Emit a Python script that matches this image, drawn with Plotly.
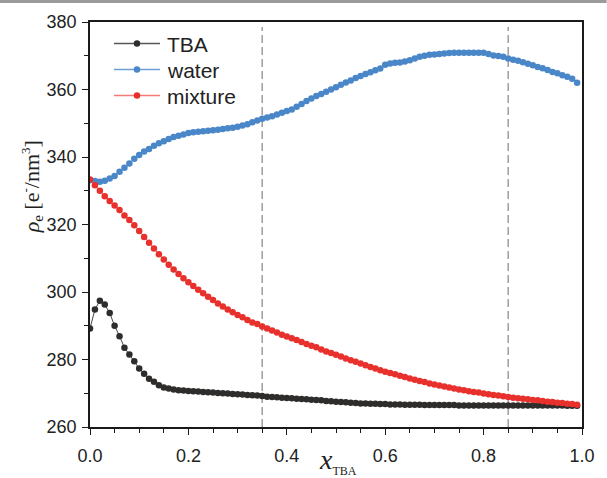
import plotly.graph_objects as go

x_tba = [round(i * 0.01, 2) for i in range(100)]

tba = [289.2, 294.8, 297.4, 296.3, 293.8, 290.0, 286.9, 283.5, 281.5, 279.5,
       277.3, 275.8, 274.3, 273.4, 272.4, 271.7, 271.4, 271.1, 270.9, 270.8,
       270.7, 270.6, 270.5, 270.4, 270.3, 270.2, 270.1, 270.0, 269.9, 269.8,
       269.7, 269.6, 269.5, 269.4, 269.3, 269.2, 269.0, 268.9, 268.8, 268.7,
       268.6, 268.5, 268.4, 268.3, 268.2, 268.1, 268.0, 267.9, 267.7, 267.6,
       267.5, 267.4, 267.3, 267.2, 267.1, 267.0, 267.0, 266.9, 266.9, 266.8,
       266.8, 266.7, 266.7, 266.7, 266.6, 266.6, 266.6, 266.6, 266.5, 266.5,
       266.5, 266.5, 266.5, 266.5, 266.5, 266.4, 266.4, 266.4, 266.4, 266.4,
       266.4, 266.4, 266.4, 266.4, 266.4, 266.4, 266.4, 266.4, 266.4, 266.4,
       266.4, 266.4, 266.4, 266.4, 266.4, 266.4, 266.4, 266.3, 266.3, 266.3]

water = [333.1, 332.9, 332.7, 333.0, 333.6, 334.4, 335.6, 336.8, 338.1, 339.5,
         340.6, 341.6, 342.4, 343.3, 344.1, 344.7, 345.3, 345.9, 346.3, 346.7,
         347.1, 347.3, 347.5, 347.6, 347.8, 347.9, 348.1, 348.3, 348.5, 348.7,
         349.0, 349.3, 349.7, 350.3, 350.8, 351.3, 351.7, 352.1, 352.6, 353.1,
         353.6, 354.1, 354.9, 355.7, 356.6, 357.3, 358.1, 358.7, 359.3, 360.0,
         360.7, 361.4, 362.1, 362.7, 363.4, 364.0, 364.6, 365.1, 365.7, 366.2,
         367.3, 367.7, 367.9, 368.0, 368.3, 368.7, 369.2, 369.7, 370.0, 370.3,
         370.4, 370.5, 370.7, 370.8, 370.9, 370.9, 370.9, 370.9, 370.9, 370.9,
         370.9, 370.5, 370.1, 369.9, 369.7, 369.2, 368.8, 368.5, 368.1, 367.6,
         367.2, 366.7, 366.3, 365.8, 365.2, 364.8, 364.2, 363.8, 363.2, 362.0]

mixture = [333.3, 331.6, 330.0, 328.4, 327.0, 325.6, 324.3, 322.7, 321.3, 319.8,
           318.1, 316.3, 314.6, 312.9, 311.2, 309.6, 308.1, 306.7, 305.3, 304.1,
           302.9, 301.8, 300.7, 299.6, 298.6, 297.6, 296.6, 295.7, 294.8, 294.0,
           293.2, 292.5, 291.7, 291.0, 290.5, 289.8, 289.2, 288.6, 288.0, 287.3,
           286.8, 286.3, 285.8, 285.2, 284.6, 284.1, 283.6, 283.0, 282.4, 281.9,
           281.4, 280.9, 280.3, 279.8, 279.3, 278.8, 278.3, 277.8, 277.3, 276.8,
           276.4, 276.0, 275.6, 275.2, 274.8, 274.4, 274.0, 273.6, 273.3, 272.9,
           272.6, 272.3, 272.0, 271.7, 271.4, 271.1, 270.9, 270.6, 270.4, 270.2,
           269.9, 269.7, 269.5, 269.3, 269.1, 268.9, 268.7, 268.5, 268.4, 268.2,
           268.0, 267.9, 267.7, 267.5, 267.4, 267.2, 267.1, 266.9, 266.8, 266.6]

series_names = ["TBA", "water", "mixture"]
marker_colors = ["#2f2d2b", "#4a87c8", "#e8302d"]
line_colors = ["#4a4644", "#6a9ad0", "#f06a66"]
legend_line_colors = ["#5a5654", "#6f9fd4", "#f47a76"]
x_ticks = [0.0, 0.2, 0.4, 0.6, 0.8, 1.0]
y_ticks = [260, 280, 300, 320, 340, 360, 380]
dashed_x = [0.35, 0.85]

# plot-area geometry in pixels (for placing the hand-drawn legend)
PL, PW, PT, PH = 89.5, 502.5, 22.0, 404.7


def px_x(p):
    return (p - PL) / PW


def px_y(p):
    return (PT + PH - p) / PH


fig = go.Figure()
for name, ys, mc, lc in zip(series_names, [tba, water, mixture], marker_colors, line_colors):
    fig.add_trace(go.Scatter(
        x=x_tba, y=ys, name=name, mode="lines+markers",
        line=dict(color=lc, width=1),
        marker=dict(color=mc, size=6.5, line=dict(width=0)),
        showlegend=False,
    ))

for xv in dashed_x:
    fig.add_shape(type="line", xref="x", yref="y", x0=xv, x1=xv, y0=260, y1=378.5,
                  line=dict(color="#a39c97", width=1.5, dash="8px,4px"), layer="below")

# grey band at top of image
fig.add_shape(type="rect", xref="paper", yref="paper", x0=-0.2, x1=1.05,
              y0=1.047, y1=1.06, fillcolor="#9a9a9a", line=dict(width=0))

# legend (drawn manually to match row spacing)
row_y = [43.5, 69.5, 95.5]
for name, ry, mc, llc in zip(series_names, row_y, marker_colors, legend_line_colors):
    fig.add_shape(type="line", xref="paper", yref="paper",
                  x0=px_x(114), x1=px_x(161), y0=px_y(ry), y1=px_y(ry),
                  line=dict(color=llc, width=1.5))
    r = 3.3
    fig.add_shape(type="circle", xref="paper", yref="paper",
                  x0=px_x(137.5 - r), x1=px_x(137.5 + r), y0=px_y(ry + r), y1=px_y(ry - r),
                  fillcolor=mc, line=dict(width=0))
    fig.add_annotation(text=name, xref="paper", yref="paper", x=px_x(166), y=px_y(ry + 0.5),
                       xanchor="left", yanchor="middle", showarrow=False,
                       font=dict(family="Liberation Sans, Arial", size=21, color="#222222"))

axis_common = dict(
    showgrid=False, zeroline=False, showline=True, linecolor="#1a1a1a", linewidth=1.5,
    mirror=True, ticks="outside", ticklen=6, tickwidth=1.2, tickcolor="#1a1a1a",
    tickfont=dict(family="Liberation Sans, Arial", size=18, color="#222222"),
)

fig.update_xaxes(
    range=[0, 1.0], tickvals=x_ticks, ticktext=[f"{v:.1f}" for v in x_ticks],
    minor=dict(dtick=0.05, tick0=0, ticks="outside", ticklen=4, tickwidth=1.2, tickcolor="#1a1a1a"),
    ticklabelstandoff=6,
    **axis_common,
)
fig.update_yaxes(
    range=[260, 380], tickvals=y_ticks,
    minor=dict(dtick=10, tick0=260, ticks="outside", ticklen=4, tickwidth=1.2, tickcolor="#1a1a1a"),
    ticklabelstandoff=2,
    **axis_common,
)

serif = "Liberation Serif, Times New Roman"
fig.add_annotation(
    text="<i>x</i><sub><span style='font-size:12px'>TBA</span></sub>",
    xref="paper", yref="paper", x=0.505, y=-0.083, xanchor="center", yanchor="middle",
    showarrow=False, font=dict(family=serif, size=28, color="#222222"),
)
fig.add_annotation(
    text="<i>ρ</i><sub><span style='font-size:15px'>e</span></sub> [e<sup><span style='font-size:13px'>-</span></sup>/nm<sup><span style='font-size:13px'>3</span></sup>]",
    xref="paper", yref="paper", x=-0.118, y=0.594, xanchor="center", yanchor="middle",
    textangle=-90, showarrow=False, font=dict(family=serif, size=22, color="#222222"),
)

fig.update_layout(
    width=607, height=478,
    margin=dict(l=89.5, r=15, t=22, b=51.3),
    paper_bgcolor="white", plot_bgcolor="white",
    showlegend=False,
)

fig.write_html("out.html")
